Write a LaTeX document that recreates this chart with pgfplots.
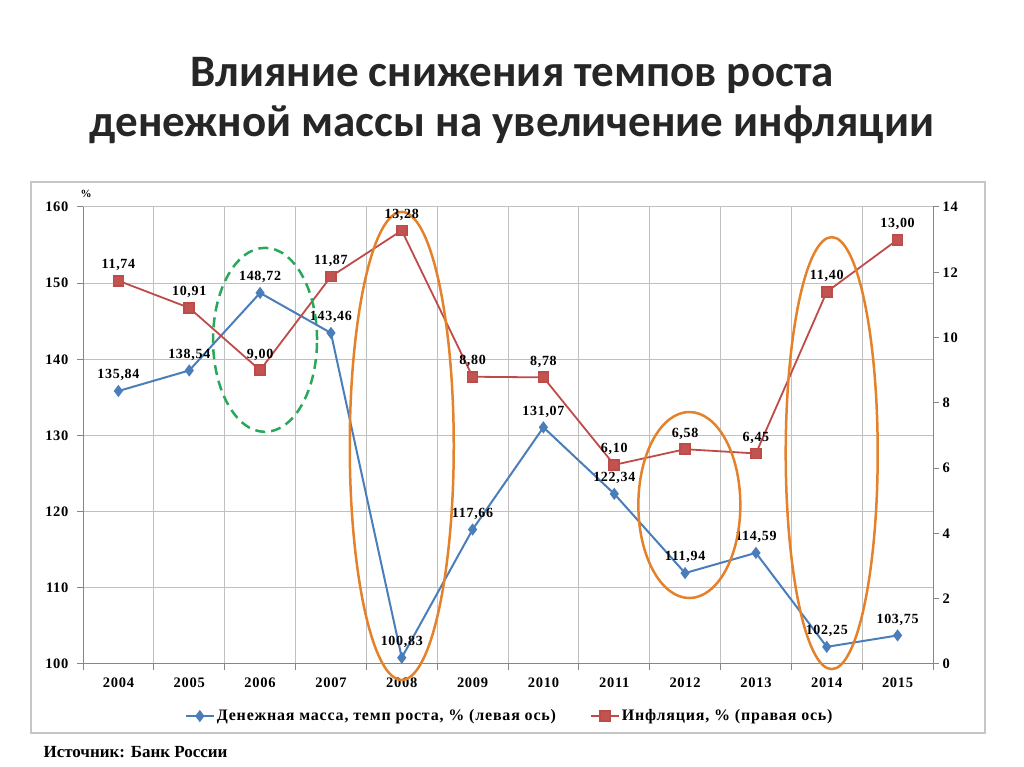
\documentclass[border=0pt]{standalone}
\usepackage{fontspec}
\setmainfont{Liberation Serif}
\newfontfamily\titlefont{Carlito}
\newfontfamily\lblfont[LetterSpace=5]{Liberation Serif}
\usepackage{pgfplots}
\pgfplotsset{compat=1.18}

\definecolor{mblue}{RGB}{74,126,187}
\definecolor{mred}{RGB}{190,75,72}
\definecolor{morange}{RGB}{228,129,43}
\definecolor{mgreen}{RGB}{40,168,90}
\definecolor{gridgray}{RGB}{192,192,192}
\definecolor{axgray}{RGB}{134,134,134}

\pgfplotsset{
  common/.style={
    at={(83pt,103pt)}, anchor=south west,
    width=850pt, height=457pt, scale only axis,
    xmin=-0.5, xmax=11.5,
    clip=false,
    axis line style={axgray, line width=1pt},
    tick style={axgray, line width=1pt},
    tick align=outside,
    major tick length=6pt, minor tick length=6pt,
    ticklabel style={font=\lblfont\bfseries\fontsize{14.5}{14.5}\selectfont},
    /pgf/number format/assume math mode=true,
  },
  lbl/.style={
    nodes near coords, point meta=explicit symbolic,
    every node near coord/.append style={
      font=\lblfont\bfseries\fontsize{14}{14}\selectfont, text=black,
      anchor=south, inner sep=0pt, yshift=9pt},
  },
}

\begin{document}
\begin{tikzpicture}
\path[use as bounding box] (0pt,0pt) rectangle (1024pt,767pt);

% title
\node[font=\titlefont\bfseries\fontsize{45}{45}\selectfont, text=black!85] at (512pt,692pt) {Влияние снижения темпов роста};
\node[font=\titlefont\bfseries\fontsize{45}{45}\selectfont, text=black!85] at (512pt,642pt) {денежной массы на увеличение инфляции};

% chart frame
\draw[gray!45, line width=1.5pt] (31pt,34pt) rectangle (985pt,585pt);

% left axis: money supply growth
\begin{axis}[common,
  axis x line*=bottom, axis y line*=left,
  ymin=100, ymax=160, ytick={100,110,...,160},
  xtick={0,...,11},
  xticklabels={2004,2005,2006,2007,2008,2009,2010,2011,2012,2013,2014,2015},
  major x tick style={draw=none},
  minor xtick={-0.5,0.5,1.5,2.5,3.5,4.5,5.5,6.5,7.5,8.5,9.5,10.5,11.5},
  xminorgrids, ymajorgrids,
  grid style={gridgray, line width=1pt},
  xticklabel style={yshift=-4pt},
  yticklabel style={xshift=-5pt},
]
\addplot[mblue, line width=2pt, mark=diamond*, mark size=4.5pt,
  mark options={fill=mblue}, lbl] coordinates {
  (0,135.84)[135,84] (1,138.54)[138,54] (2,148.72)[148,72] (3,143.46)[143,46]
  (4,100.83)[100,83] (5,117.66)[117,66] (6,131.07)[131,07] (7,122.34)[122,34]
  (8,111.94)[111,94] (9,114.59)[114,59] (10,102.25)[102,25] (11,103.75)[103,75]
};
\end{axis}

% right axis: inflation
\begin{axis}[common,
  axis x line=none, axis y line*=right,
  ymin=0, ymax=14, ytick={0,2,...,14},
  legend style={at={(0.502,-0.114)}, anchor=center, draw=none, fill=none,
    legend columns=2, font=\lblfont\bfseries\fontsize{16}{16}\selectfont,
    /tikz/every even column/.append style={column sep=32pt}},
  legend image code/.code={\draw[mark repeat=2, mark phase=2]
    plot coordinates {(0pt,0pt) (14pt,0pt) (28pt,0pt)};},
]
\addlegendimage{mblue, line width=2pt, mark=diamond*, mark size=4.5pt, mark options={fill=mblue}}
\addlegendentry{Денежная масса, темп роста, \% (левая ось)}
\addplot[mred, line width=1.8pt, mark=square*, mark size=5pt,
  mark options={fill=mred!95!white}, lbl] coordinates {
  (0,11.74)[11,74] (1,10.91)[10,91] (2,9.00)[9,00] (3,11.87)[11,87]
  (4,13.28)[13,28] (5,8.80)[8,80] (6,8.78)[8,78] (7,6.10)[6,10]
  (8,6.58)[6,58] (9,6.45)[6,45] (10,11.40)[11,40] (11,13.00)[13,00]
};
\addlegendentry{Инфляция, \% (правая ось)}

% highlight ellipses
\draw[mgreen, line width=2.5pt, dash pattern=on 10pt off 6pt] (axis cs:2.07,9.93) ellipse [x radius=52pt, y radius=92pt];
\draw[morange, line width=2.5pt] (axis cs:4.0,6.68) ellipse [x radius=52pt, y radius=234pt];
\draw[morange, line width=2.5pt] (axis cs:8.06,4.87) ellipse [x radius=51pt, y radius=93pt];
\draw[morange, line width=2.5pt] (axis cs:10.07,6.46) ellipse [x radius=46pt, y radius=216pt];
\end{axis}

% axis unit and source
\node[font=\bfseries\fontsize{11}{11}\selectfont, anchor=south] at (86pt,566pt) {\%};
\node[font=\bfseries\fontsize{17}{17}\selectfont, anchor=west] at (40pt,15pt) {Источник: Банк России};
\end{tikzpicture}
\end{document}
